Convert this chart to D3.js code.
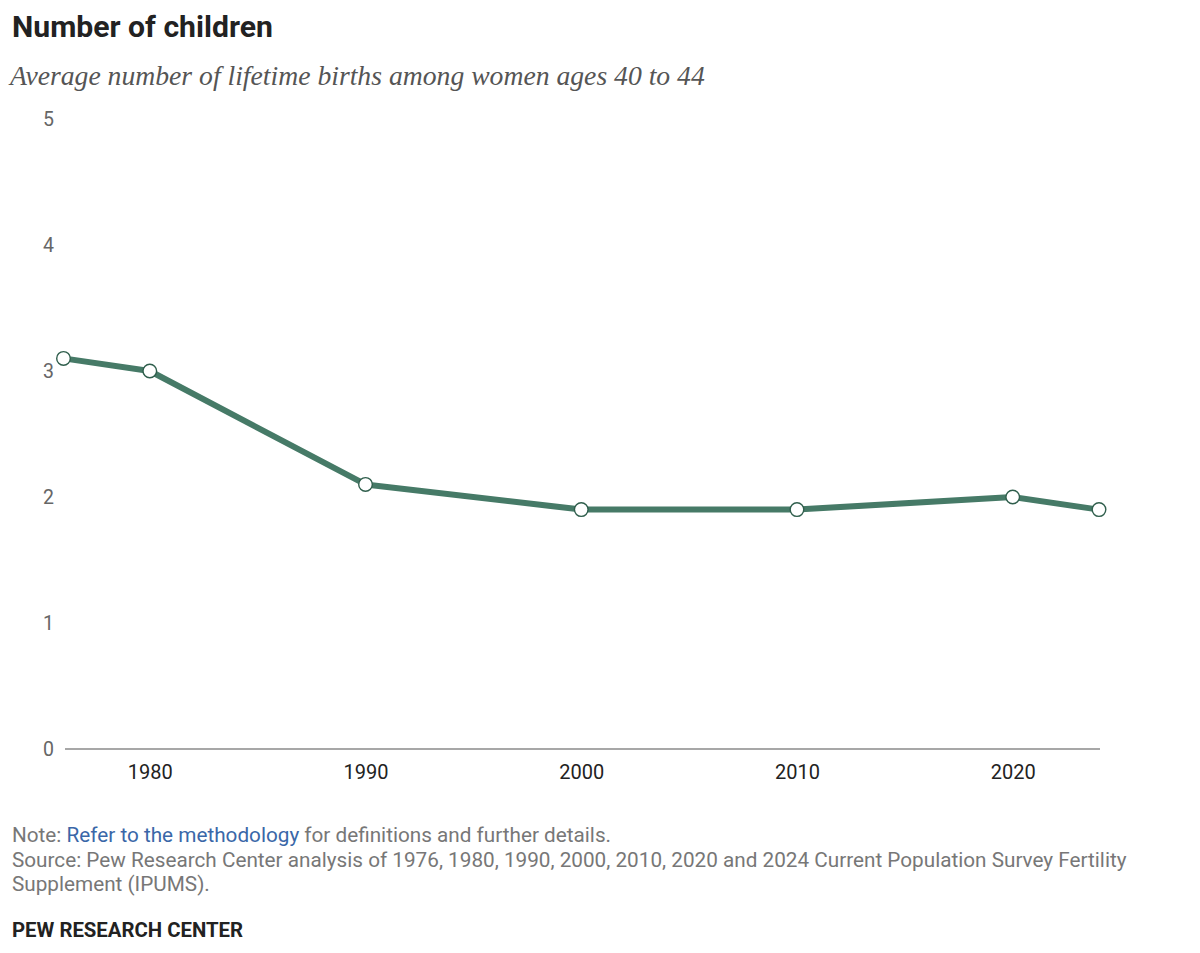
<!DOCTYPE html>
<html>
<head>
<meta charset="utf-8">
<script src="https://cdn.jsdelivr.net/npm/d3@7"></script>
<style>
  body { margin: 0; background: #fff; }
  svg { display: block; }
</style>
</head>
<body>
<svg id="chart" width="1200" height="953"></svg>
<script>
// data
var years = [1976, 1980, 1990, 2000, 2010, 2020, 2024];
var births = [3.1, 3.0, 2.1, 1.9, 1.9, 2.0, 1.9];
var xTicks = [1980, 1990, 2000, 2010, 2020];
var yTicks = [0, 1, 2, 3, 4, 5];

var titleText = "Number of children";
var subtitleText = "Average number of lifetime births among women ages 40 to 44";
var sourceLines = [
    "Source: Pew Research Center analysis of 1976, 1980, 1990, 2000, 2010, 2020 and 2024 Current Population Survey Fertility",
    "Supplement (IPUMS)."
];

var svg = d3.select("#chart");
var sansFont = "'Liberation Sans Narrow', 'Roboto', sans-serif";
var bodyFont = "'Roboto', 'Liberation Sans', sans-serif";

// shrink or grow the font so the text spans the width seen in the reference
function fitWidth(sel, target) {
    var node = sel.node();
    var size = parseFloat(sel.attr("font-size"));
    var w = node.getComputedTextLength();
    if (w > 0) sel.attr("font-size", (size * target / w).toFixed(2));
}

var title = svg.append("text")
    .attr("x", 12).attr("y", 37)
    .attr("font-family", sansFont)
    .attr("font-weight", "bold")
    .attr("font-size", 28)
    .attr("fill", "#222")
    .text(titleText);
fitWidth(title, 261);

var subtitle = svg.append("text")
    .attr("x", 10).attr("y", 85)
    .attr("font-family", "'Liberation Serif', Georgia, serif")
    .attr("font-style", "italic")
    .attr("font-size", 24)
    .attr("fill", "#555")
    .text(subtitleText);
fitWidth(subtitle, 695);

var x = d3.scaleLinear()
    .domain([1976, 2024])
    .range([63.5, 1099]);
var y = d3.scaleLinear()
    .domain([0, 5])
    .range([749, 119]);

// y axis: labels only
var yAxis = svg.append("g")
    .attr("transform", "translate(54,0)")
    .call(d3.axisLeft(y).tickValues(yTicks).tickSize(0).tickPadding(0).tickFormat(d3.format("d")));
yAxis.select(".domain").remove();
yAxis.selectAll("text")
    .attr("font-family", bodyFont)
    .attr("font-size", 19.5)
    .attr("fill", "#666");

// baseline
svg.append("line")
    .attr("x1", 65).attr("x2", 1100)
    .attr("y1", y(0)).attr("y2", y(0))
    .attr("stroke", "#8a8a8a")
    .attr("stroke-width", 1.3);

// x axis: labels only
var xAxis = svg.append("g")
    .attr("transform", "translate(0," + y(0) + ")")
    .call(d3.axisBottom(x).tickValues(xTicks).tickSize(0).tickPadding(16).tickFormat(d3.format("d")));
xAxis.select(".domain").remove();
xAxis.selectAll("text")
    .attr("font-family", bodyFont)
    .attr("font-size", 20)
    .attr("fill", "#222");

var points = years.map(function (d, i) {
    return { year: d, value: births[i] };
});

var line = d3.line()
    .x(function (d) { return x(d.year); })
    .y(function (d) { return y(d.value); });

svg.append("path")
    .datum(points)
    .attr("d", line)
    .attr("fill", "none")
    .attr("stroke", "#467a67")
    .attr("stroke-width", 6)
    .attr("stroke-linejoin", "round");

svg.selectAll(".dot")
    .data(points)
    .enter().append("circle")
    .attr("class", "dot")
    .attr("cx", function (d) { return x(d.year); })
    .attr("cy", function (d) { return y(d.value); })
    .attr("r", 6.8)
    .attr("fill", "#fff")
    .attr("stroke", "#2f5e4c")
    .attr("stroke-width", 1.4);

// notes
var note = svg.append("text")
    .attr("x", 12).attr("y", 842)
    .attr("font-family", bodyFont)
    .attr("font-size", 17)
    .attr("fill", "#777");
note.append("tspan").text("Note: ");
note.append("tspan").attr("fill", "#3a67a8").text("Refer to the methodology");
note.append("tspan").text(" for definitions and further details.");

var src1 = svg.append("text")
    .attr("x", 12).attr("y", 867)
    .attr("font-family", bodyFont)
    .attr("font-size", 17)
    .attr("fill", "#777")
    .text(sourceLines[0]);
fitWidth(src1, 1115);
var noteSize = src1.attr("font-size");
note.attr("font-size", noteSize);

svg.append("text")
    .attr("x", 12).attr("y", 891)
    .attr("font-family", bodyFont)
    .attr("font-size", noteSize)
    .attr("fill", "#777")
    .text(sourceLines[1]);

var pew = svg.append("text")
    .attr("x", 12).attr("y", 937)
    .attr("font-family", bodyFont)
    .attr("font-weight", "bold")
    .attr("font-size", 17)
    .attr("fill", "#222")
    .text("PEW RESEARCH CENTER");
fitWidth(pew, 231);
</script>
</body>
</html>
